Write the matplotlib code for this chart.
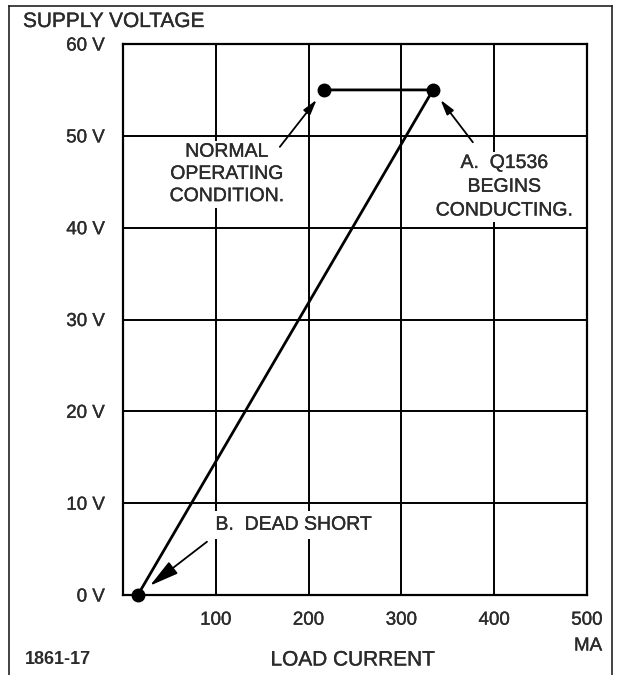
import matplotlib
matplotlib.use("Agg")
import matplotlib.pyplot as plt
from matplotlib.lines import Line2D
import matplotlib.patheffects as pe

plt.rcParams['font.family'] = ['Liberation Sans', 'DejaVu Sans']

# ---- data ----
x_ticks = [100, 200, 300, 400, 500]
x_tick_labels = ["100", "200", "300", "400", "500"]
y_ticks = [0, 10, 20, 30, 40, 50, 60]
y_tick_labels = ["0 V", "10 V", "20 V", "30 V", "40 V", "50 V", "60 V"]

normal_current = 217      # mA, normal operating condition
conduct_current = 334     # mA, Q1536 begins conducting
short_current = 16        # mA, dead short
operating_voltage = 55    # V
short_voltage = 0         # V

path_current = [normal_current, conduct_current, short_current]
path_voltage = [operating_voltage, operating_voltage, short_voltage]

TXT = "#2b2b2b"
W, H = 621, 675
heavy = [pe.withStroke(linewidth=0.25, foreground=TXT)]

fig = plt.figure(figsize=(W/100, H/100), dpi=100)
ax = fig.add_axes([123/W, 1-595/H, (587-123)/W, (595-44)/H])
ax.set_xlim(0, 500)
ax.set_ylim(0, 60)

ax.set_xticks(x_ticks)
ax.set_xticklabels(x_tick_labels)
ax.set_yticks(y_ticks)
ax.set_yticklabels(y_tick_labels)
ax.tick_params(axis='both', length=0, labelsize=13.5, labelcolor=TXT)
ax.tick_params(axis='y', pad=13)
ax.tick_params(axis='x', pad=12)
for lbl in ax.get_xticklabels() + ax.get_yticklabels():
    lbl.set_path_effects(heavy)
ax.grid(True, color='black', linewidth=1.4)
for s in ax.spines.values():
    s.set_linewidth(1.6)
    s.set_color('black')

# ---- curve ----
ax.plot(path_current, path_voltage, color='black', linewidth=2.0, zorder=5, clip_on=False)
ax.plot(path_current, path_voltage, linestyle='none', marker='o', markersize=9,
        color='black', zorder=6, clip_on=False)

# ---- annotations ----
box = dict(facecolor='white', edgecolor='none', pad=2)
arrow_kw = dict(arrowstyle='-|>,head_length=0.9,head_width=0.25', color='black',
                linewidth=1.3, shrinkA=0, shrinkB=9)

ax.text(112, 45.8, "NORMAL\nOPERATING\nCONDITION.", ha='center', va='center',
        fontsize=14, color=TXT, linespacing=1.4, zorder=7, bbox=box, path_effects=heavy)
ax.annotate("", xy=(normal_current, operating_voltage), xytext=(169, 48.8),
            arrowprops=arrow_kw, zorder=8)

ax.text(411, 44.4, "A.  Q1536\nBEGINS\nCONDUCTING.", ha='center', va='center',
        fontsize=14, color=TXT, linespacing=1.52, zorder=7, bbox=box, path_effects=heavy)
ax.annotate("", xy=(conduct_current, operating_voltage), xytext=(377, 49.3),
            arrowprops=arrow_kw, zorder=8)

ax.text(184, 7.6, "B.  DEAD SHORT", ha='center', va='center',
        fontsize=14, color=TXT, zorder=7, path_effects=heavy,
        bbox=dict(facecolor='white', edgecolor='none', pad=4))
ax.annotate("", xy=(short_current, short_voltage), xytext=(90.5, 5.8),
            arrowprops=dict(arrowstyle='-|>,head_length=1.8,head_width=0.45', color='black',
                            linewidth=1.3, shrinkA=0, shrinkB=11), zorder=8)

# ---- figure texts ----
fig.text(23/W, 1-21.5/H, "SUPPLY VOLTAGE", ha='left', va='center', fontsize=15,
         color=TXT, path_effects=heavy)
fig.text(588/W, 1-646/H, "MA", ha='center', va='center', fontsize=13.5, color=TXT,
         path_effects=heavy)
fig.text(353/W, 1-660/H, "LOAD CURRENT", ha='center', va='center', fontsize=15,
         color=TXT, path_effects=heavy)
fig.text(25/W, 1-660/H, "1861-17", ha='left', va='center', fontsize=13,
         color=TXT, fontweight='bold')

# ---- outer frame ----
for (xs, ys) in [([9/W, 9/W], [0, 1-6/H]),
                 ([9/W, 612/W], [1-6/H, 1-6/H]),
                 ([612/W, 612/W], [1-6/H, 0])]:
    fig.add_artist(Line2D(xs, ys, color='#222222', linewidth=1.2, transform=fig.transFigure))

fig.savefig("out.png", dpi=100, facecolor='white')
